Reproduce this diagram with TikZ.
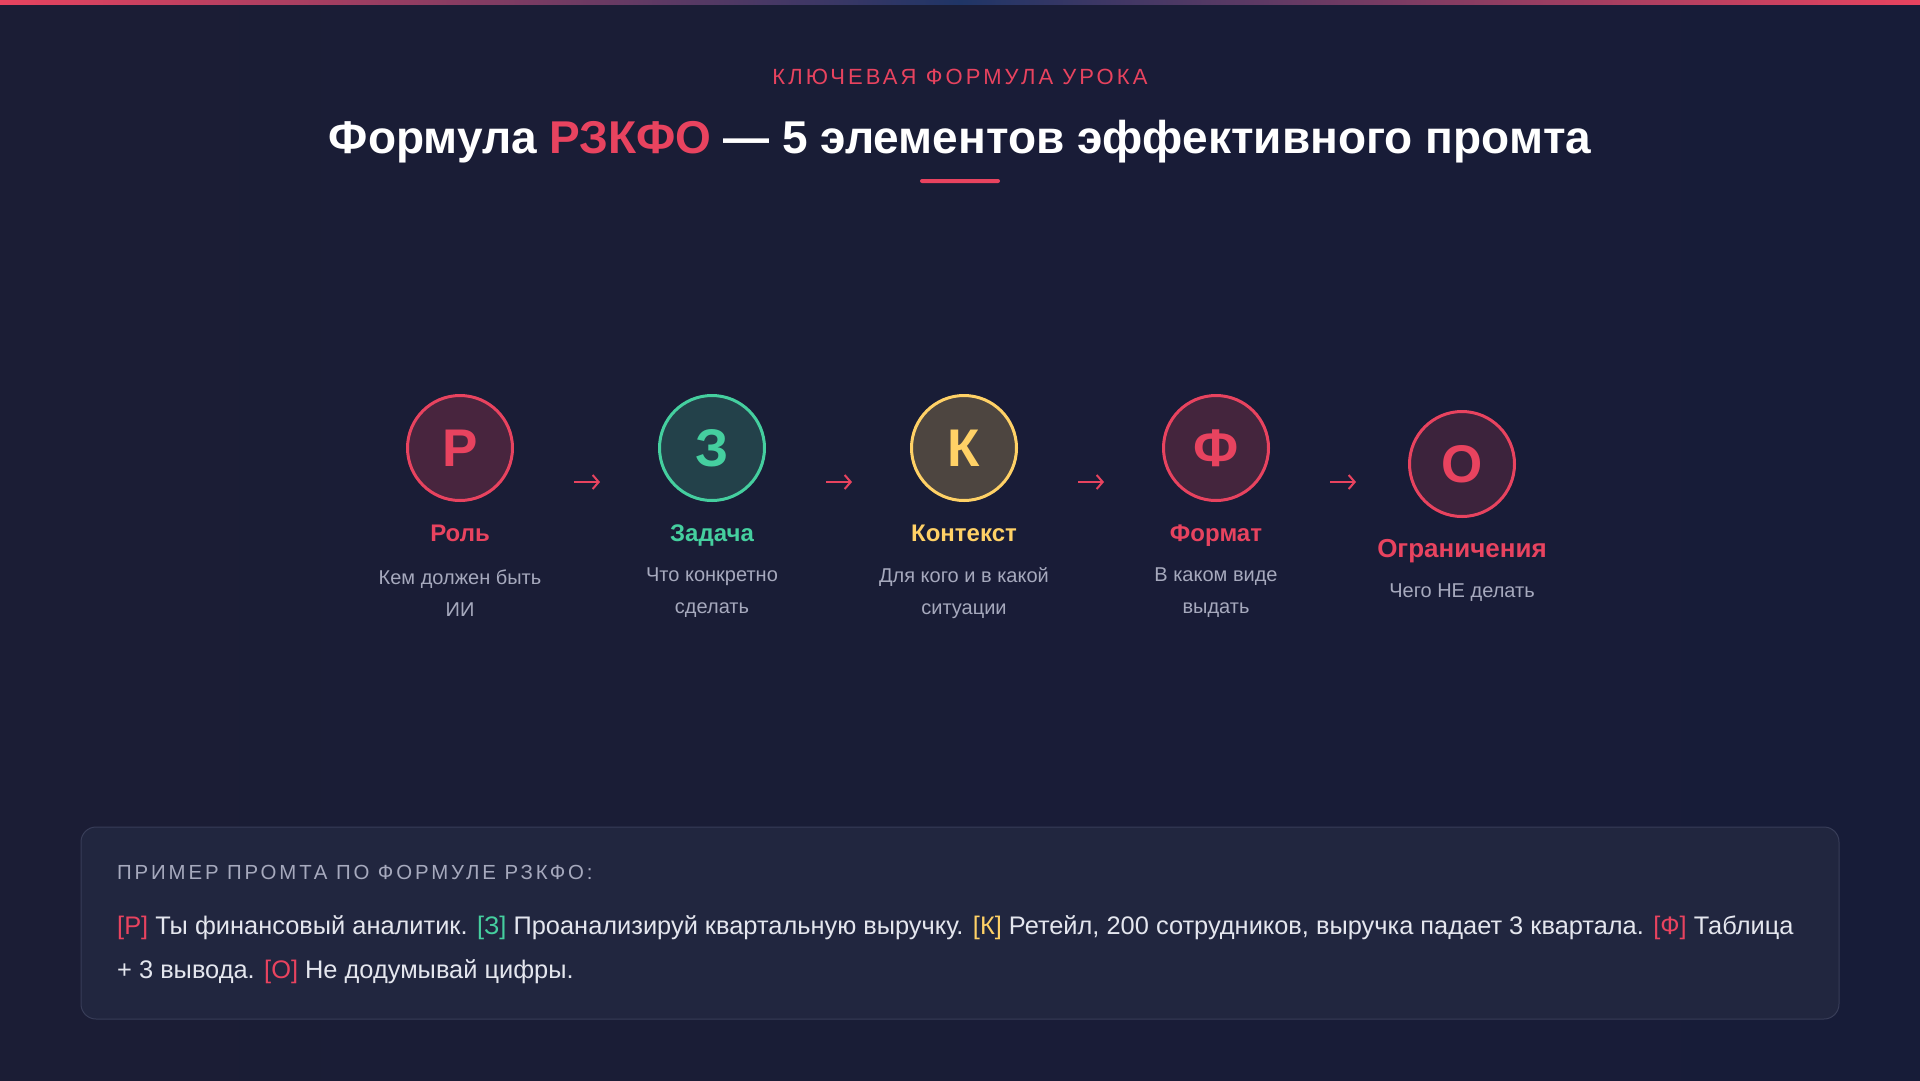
\documentclass[tikz,border=0pt]{standalone}
\usepackage{fontspec}
\setmainfont{Liberation Sans}
\newfontfamily\spacedfont[LetterSpace=14]{Liberation Sans}
\usetikzlibrary{positioning, arrows.meta}
\definecolor{bgA}{HTML}{1B1D35}
\definecolor{bgB}{HTML}{171C38}
\definecolor{navy}{HTML}{1F3566}
\definecolor{rose}{HTML}{E8435F}
\definecolor{mint}{HTML}{45CF9F}
\definecolor{sun}{HTML}{FFD166}
\definecolor{muted}{HTML}{A6A9BD}
\definecolor{panel}{HTML}{21263F}
\definecolor{edge}{HTML}{383D58}
\definecolor{body}{HTML}{E4E6EE}

\begin{document}
\begin{tikzpicture}[x=1pt, y=-1pt, node distance=252pt,
	dot/.style={circle, minimum size=105pt, inner sep=0pt, line width=3pt, font=\bfseries\fontsize{53}{53}\selectfont},
	term/.style={font=\bfseries\fontsize{24}{28}\selectfont, text height=17pt, text depth=5pt},
	note/.style={font=\fontsize{20}{32}\selectfont, text=muted, align=center},
	flow/.style={-{Straight Barb[length=6pt,width=14pt]}, line width=2pt, draw=rose, shorten <=60pt, shorten >=58pt}]
	\useasboundingbox (0,0) rectangle (1920,1080);
	\shade[left color=bgA, right color=bgB] (0,0) rectangle (1920,1080);
	\shade[left color=rose, right color=rose, middle color=navy] (0,0) rectangle (1920,4);
	
	% heading
	\node[text=rose, font=\spacedfont\fontsize{22}{24}\selectfont] (kicker) at (960,77) {КЛЮЧЕВАЯ ФОРМУЛА УРОКА};
	\node[text=white, font=\bfseries\fontsize{46}{50}\selectfont] (title) at (960,142) {Формула \textcolor{rose}{РЗКФО} — 5 элементов эффективного промта};
	\fill[rose, rounded corners=2pt] (920,179) rectangle (1000,183);
	
	% formula
	\node[dot, draw=rose, fill=rose!22!bgA, text=rose] (r) at (460,448) {Р};
	\node[dot, draw=mint, fill=mint!20!bgA, text=mint, right of = r] (z) {З};
	\node[dot, draw=sun, fill=sun!22!bgA, text=sun, right of = z] (k) {К};
	\node[dot, draw=rose, fill=rose!20!bgA, text=rose, right of = k] (f) {Ф};
	\node[dot, draw=rose, fill=rose!16!bgA, text=rose, right of = f, xshift=-6pt, yshift=-16pt] (o) {О};
	
	\node[term, text=rose, node distance=87pt, below of = r] (rn) {Роль};
	\node[term, text=mint, node distance=87pt, below of = z] (zn) {Задача};
	\node[term, text=sun, node distance=87pt, below of = k] (kn) {Контекст};
	\node[term, text=rose, node distance=87pt, below of = f] (fn) {Формат};
	\node[term, text=rose, font=\bfseries\fontsize{26}{28}\selectfont, node distance=87pt, below of = o] (on) {Ограничения};
	
	\node[note, node distance=58pt, below of = rn] (rd) {Кем должен быть\\ИИ};
	\node[note, node distance=58pt, below of = zn] (zd) {Что конкретно\\сделать};
	\node[note, node distance=58pt, below of = kn] (kd) {Для кого и в какой\\ситуации};
	\node[note, node distance=58pt, below of = fn] (fd) {В каком виде\\выдать};
	\node[note, node distance=42pt, below of = on] (od) {Чего НЕ делать};
	
	\coordinate (fo) at (f.east -| o.west);
	\draw[flow] ([yshift=-34pt]r.east) -- ([yshift=-34pt]z.west);
	\draw[flow] ([yshift=-34pt]z.east) -- ([yshift=-34pt]k.west);
	\draw[flow] ([yshift=-34pt]k.east) -- ([yshift=-34pt]f.west);
	\draw[flow, shorten >=52pt] ([yshift=-34pt]f.east) -- ([yshift=-34pt]fo);
	
	% example
	\draw[fill=panel, draw=edge, line width=1pt, rounded corners=15pt] (81,827) rectangle (1839,1019);
	\node[anchor=west, inner sep=0pt, text=muted, font=\spacedfont\fontsize{20.4}{24}\selectfont] (head) at (117,872) {ПРИМЕР ПРОМТА ПО ФОРМУЛЕ РЗКФО:};
	\node[anchor=north west, align=left, text=body, inner sep=0pt, font=\fontsize{25.4}{44}\selectfont] (prompt) at (117,915) {\textcolor{rose}{[Р]} Ты финансовый аналитик. \textcolor{mint}{[З]} Проанализируй квартальную выручку. \textcolor{sun}{[К]} Ретейл, 200 сотрудников, выручка падает 3 квартала. \textcolor{rose}{[Ф]} Таблица\\+ 3 вывода. \textcolor{rose}{[О]} Не додумывай цифры.};
\end{tikzpicture}
\end{document}
